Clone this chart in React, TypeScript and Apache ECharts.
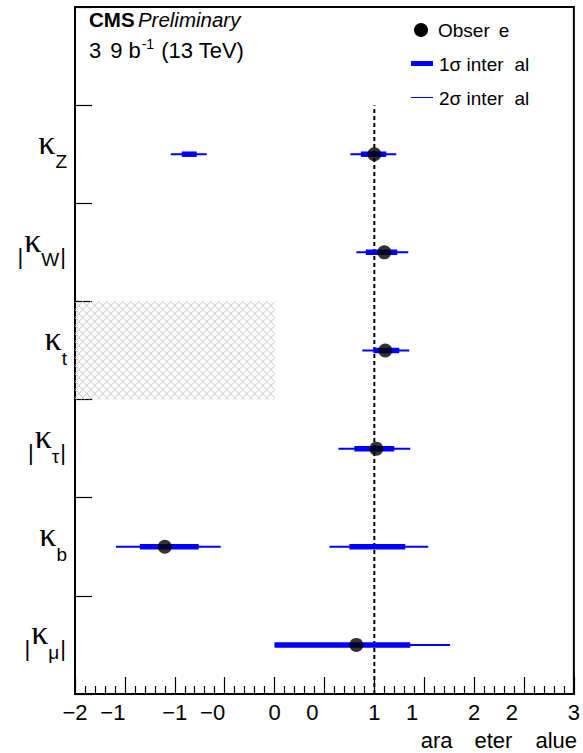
import React, { useEffect, useRef } from "react";
import * as echarts from "echarts";

// Rows from bottom to top (top slot is empty, holds the legend)
const ROW_SUBS = ["μ", "b", "τ", "t", "W", "Z", ""];
const ROW_ABS = [true, false, true, false, true, false, false];

// Best-fit values per row (row index 0..5)
const BEST_FIT = [0.82, -1.1, 1.02, 1.11, 1.1, 1.0];

// [row, low, high]
const SIGMA1 = [
  [0, 0.0, 1.36],
  [1, -1.35, -0.76],
  [1, 0.75, 1.31],
  [2, 0.8, 1.2],
  [3, 0.99, 1.25],
  [4, 0.915, 1.23],
  [5, 0.865, 1.12],
  [5, -0.93, -0.78],
];
const SIGMA2 = [
  [0, 0.0, 1.76],
  [1, -1.59, -0.54],
  [1, 0.55, 1.54],
  [2, 0.64, 1.36],
  [3, 0.88, 1.35],
  [4, 0.82, 1.34],
  [5, 0.76, 1.22],
  [5, -1.04, -0.68],
];
// excluded (hatched) region: [row, from, to]
const EXCLUDED = [[3, -2, 0]];

const X_MIN = -2;
const X_MAX = 3;
const X_STEP = 0.5;
const X_TICK_LABELS = ["−2", "−1", "−1", "−0", "0", "0", "1", "1", "2", "2", "3"];

const FONT = "Liberation Sans";
const GREEK = "Liberation Serif";
const BLUE = "#0000ff";
const HATCH = "#c4c4c4";

function intervalSeries(data: number[][], width: number, z: number) {
  return {
    type: "custom",
    z,
    data,
    encode: { x: [1, 2], y: 0 },
    renderItem: (_p: any, api: any) => {
      const y = api.value(0) + 0.5;
      const p1 = api.coord([api.value(1), y]);
      const p2 = api.coord([api.value(2), y]);
      return {
        type: "line",
        shape: { x1: p1[0], y1: p1[1], x2: p2[0], y2: p2[1] },
        style: { stroke: BLUE, lineWidth: width, lineCap: "butt" },
      };
    },
  };
}

export default function App() {
  const ref = useRef<HTMLDivElement>(null);
  useEffect(() => {
    const chart = echarts.init(ref.current!, null, { renderer: "svg" });
    const option: any = {
      animation: false,
      grid: {
        left: 75,
        right: 6,
        top: 7,
        bottom: 59,
        show: true,
        borderColor: "#000",
        borderWidth: 2,
        backgroundColor: "transparent",
      },
      xAxis: [
        {
          type: "value",
          min: X_MIN,
          max: X_MAX,
          interval: X_STEP,
          position: "bottom",
          axisLine: { show: true, onZero: false, lineStyle: { color: "#000", width: 2 } },
          axisTick: { show: true, inside: true, length: 17, lineStyle: { color: "#000", width: 1.2 } },
          minorTick: { show: true, splitNumber: 5, length: 8, lineStyle: { color: "#000", width: 1.2 } },
          splitLine: { show: false },
          axisLabel: {
            margin: 7,
            color: "#000",
            fontFamily: FONT,
            fontSize: 22,
            formatter: (v: number) => {
              const i = Math.round((v - X_MIN) / X_STEP);
              const lab = X_TICK_LABELS[i] ?? "";
              return i % 2 === 1 ? `{h|${lab}}` : `{n|${lab}}`;
            },
            rich: {
              n: { fontFamily: FONT, fontSize: 22, color: "#000" },
              h: { fontFamily: FONT, fontSize: 22, color: "#000", padding: [0, 24, 0, 0] },
            },
          },
        },
      ],
      yAxis: [
        {
          type: "value",
          min: 0,
          max: 7,
          interval: 1,
          position: "left",
          axisLine: { show: true, onZero: false, lineStyle: { color: "#000", width: 2 } },
          axisTick: { show: true, inside: true, length: 17, lineStyle: { color: "#000", width: 1.2 } },
          axisLabel: { show: false },
          splitLine: { show: false },
        },
        {
          type: "category",
          position: "left",
          data: ROW_SUBS.map((_s, i) => String(i)),
          boundaryGap: true,
          axisLine: { show: false },
          axisTick: { show: false },
          splitLine: { show: false },
          axisLabel: {
            margin: 8,
            formatter: (_v: string, idx: number) => {
              const sub = ROW_SUBS[idx];
              if (!sub) return "";
              const core = `{k|κ}{s|${sub}}`;
              return ROW_ABS[idx] ? `{bar||}${core}{bar||}` : core;
            },
            rich: {
              k: {
                fontFamily: GREEK,
                fontSize: 34,
                fontWeight: "normal",
                lineHeight: 34,
                padding: [0, 0, 12, 0],
                verticalAlign: "bottom",
                color: "#000",
              },
              s: {
                fontFamily: FONT,
                fontSize: 19,
                lineHeight: 19,
                verticalAlign: "bottom",
                color: "#000",
              },
              bar: {
                fontFamily: FONT,
                fontSize: 22,
                lineHeight: 22,
                padding: [0, 1, 2, 1],
                verticalAlign: "bottom",
                color: "#000",
              },
            },
          },
        },
      ],
      series: [
        {
          type: "custom",
          z: 1,
          data: EXCLUDED,
          encode: { x: [1, 2], y: 0 },
          renderItem: (_p: any, api: any) => {
            const a = api.coord([api.value(1), api.value(0) + 1]);
            const b = api.coord([api.value(2), api.value(0)]);
            const x0 = a[0], y0 = a[1], x1 = b[0], y1 = b[1];
            const step = 8;
            const children: any[] = [];
            const st = { stroke: HATCH, lineWidth: 1 };
            for (let c = y0 - x1; c <= y1 - x0; c += step) {
              const xa = Math.max(x0, y0 - c);
              const xb = Math.min(x1, y1 - c);
              if (xb > xa)
                children.push({ type: "line", shape: { x1: xa, y1: xa + c, x2: xb, y2: xb + c }, style: st });
            }
            for (let c = x0 + y0; c <= x1 + y1; c += step) {
              const xa = Math.max(x0, c - y1);
              const xb = Math.min(x1, c - y0);
              if (xb > xa)
                children.push({ type: "line", shape: { x1: xa, y1: c - xa, x2: xb, y2: c - xb }, style: st });
            }
            return { type: "group", children };
          },
        },
        {
          type: "line",
          z: 2,
          data: [
            [1, 0],
            [1, 6],
          ],
          symbol: "none",
          lineStyle: { color: "#000", width: 2, type: [4, 3] },
        },
        intervalSeries(SIGMA2, 2, 3),
        intervalSeries(SIGMA1, 5.5, 4),
        {
          type: "scatter",
          z: 5,
          data: BEST_FIT.map((v, i) => [v, i + 0.5]),
          symbol: "circle",
          symbolSize: 14,
          itemStyle: { color: "#000" },
        },
      ],
      graphic: [
        {
          type: "text",
          left: 89,
          top: 9,
          style: {
            text: "{b|CMS} {i|Preliminary}",
            rich: {
              b: { fontFamily: FONT, fontSize: 20.5, fontWeight: "bold", fill: "#000" },
              i: { fontFamily: FONT, fontSize: 20.5, fontStyle: "italic", fill: "#000" },
            },
          },
        },
        {
          type: "text",
          left: 89,
          top: 37,
          style: {
            text: "{n|3}{g9|9}{gb|b}{sup|-1}{gp|(13 TeV)}",
            rich: {
              n: { fontFamily: FONT, fontSize: 22, fill: "#000", verticalAlign: "bottom" },
              g9: { fontFamily: FONT, fontSize: 22, fill: "#000", padding: [0, 0, 0, 9], verticalAlign: "bottom" },
              gb: { fontFamily: FONT, fontSize: 22, fill: "#000", padding: [0, 0, 0, 6], verticalAlign: "bottom" },
              sup: { fontFamily: FONT, fontSize: 14, fill: "#000", padding: [0, 0, 10, 1], verticalAlign: "bottom" },
              gp: { fontFamily: FONT, fontSize: 22, fill: "#000", padding: [0, 0, 0, 7], verticalAlign: "bottom" },
            },
          },
        },
        { type: "circle", shape: { cx: 421, cy: 30, r: 7 }, style: { fill: "#000" } },
        {
          type: "text",
          x: 438,
          y: 30,
          style: {
            text: "{a|Obser}{b|e}",
            verticalAlign: "middle",
            rich: {
              a: { fontFamily: FONT, fontSize: 19, fill: "#000" },
              b: { fontFamily: FONT, fontSize: 19, fill: "#000", padding: [0, 0, 0, 9] },
            },
          },
        },
        { type: "line", shape: { x1: 411, y1: 63.5, x2: 433, y2: 63.5 }, style: { stroke: BLUE, lineWidth: 5 } },
        {
          type: "text",
          x: 439,
          y: 64,
          style: {
            text: "{a|1σ inter}{b|al}",
            verticalAlign: "middle",
            rich: {
              a: { fontFamily: FONT, fontSize: 19, fill: "#000" },
              b: { fontFamily: FONT, fontSize: 19, fill: "#000", padding: [0, 0, 0, 11] },
            },
          },
        },
        { type: "line", shape: { x1: 411, y1: 97.5, x2: 433, y2: 97.5 }, style: { stroke: BLUE, lineWidth: 1 } },
        {
          type: "text",
          x: 439,
          y: 98,
          style: {
            text: "{a|2σ inter}{b|al}",
            verticalAlign: "middle",
            rich: {
              a: { fontFamily: FONT, fontSize: 19, fill: "#000" },
              b: { fontFamily: FONT, fontSize: 19, fill: "#000", padding: [0, 0, 0, 11] },
            },
          },
        },
        {
          type: "text",
          right: 6,
          top: 729,
          style: {
            text: "{a|ara}{b|eter}{c|alue}",
            rich: {
              a: { fontFamily: FONT, fontSize: 22, fill: "#000" },
              b: { fontFamily: FONT, fontSize: 22, fill: "#000", padding: [0, 0, 0, 22] },
              c: { fontFamily: FONT, fontSize: 22, fill: "#000", padding: [0, 0, 0, 23] },
            },
          },
        },
      ],
    };
    chart.setOption(option);
    return () => chart.dispose();
  }, []);
  return (
    <div
      ref={ref}
      style={{ position: "absolute", left: 0, top: 0, width: 583, height: 753 }}
    />
  );
}
